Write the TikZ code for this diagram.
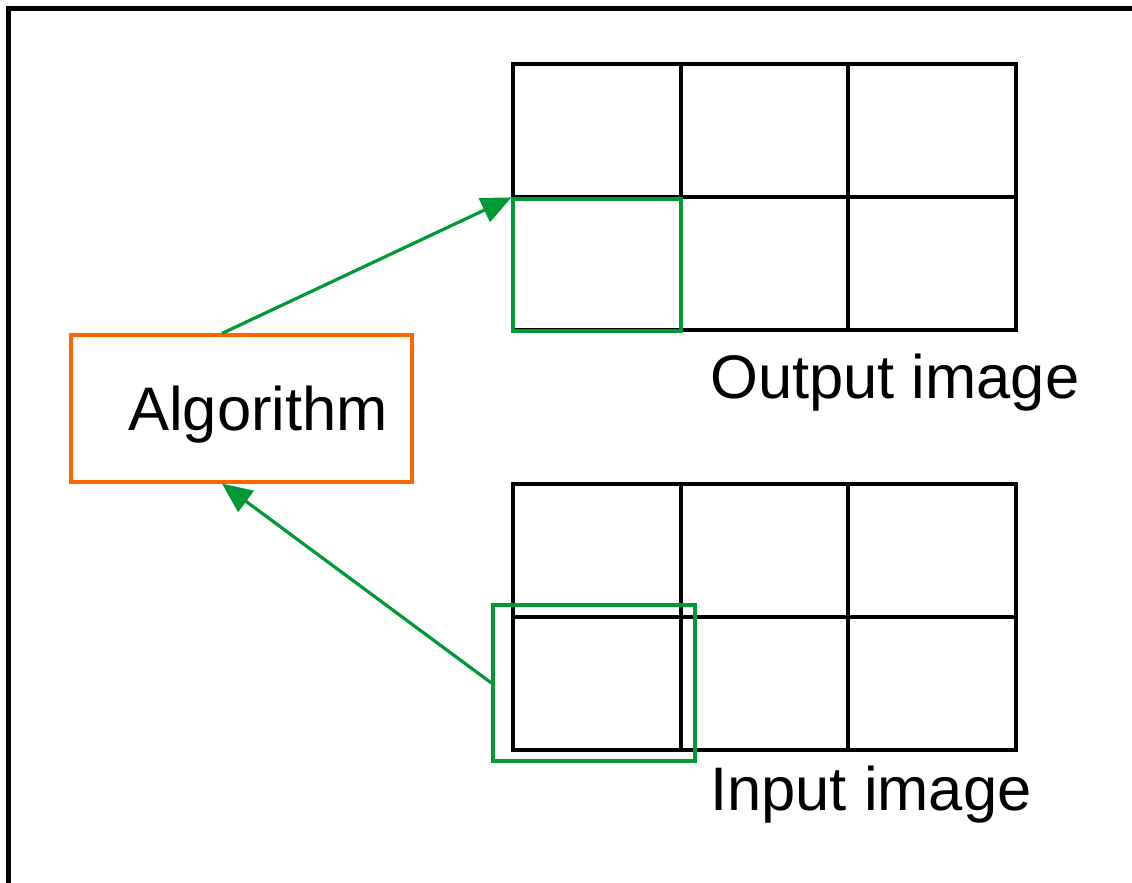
\documentclass[tikz,border=0pt]{standalone}
\usepackage{fontspec}
\setmainfont{Liberation Sans}
\usepackage{tikz}
\usetikzlibrary{arrows.meta}

\definecolor{selgreen}{RGB}{0,153,51}
\definecolor{algoorange}{RGB}{255,102,0}

\tikzset{
  gridline/.style={line width=3.2pt, black, line cap=rect},
  selbox/.style={draw=selgreen, line width=3.2pt, inner sep=0pt},
  algobox/.style={draw=algoorange, line width=3.2pt, inner sep=0pt},
  selarrow/.style={selgreen, line width=3.2pt, -{Triangle[length=30pt,width=26pt]}},
  caption/.style={anchor=base west, inner sep=0pt, font=\fontsize{61.5}{72}\selectfont}
}

\begin{document}
\begin{tikzpicture}[x=1pt,y=1pt,yscale=-1,xscale=1]
    \useasboundingbox (0,0) rectangle (1132,883);

    %Frame (top and left edges only)
    \draw [line width=5pt, line cap=rect] (1140,8.5) -- (8.5,8.5) -- (8.5,890) ;

    %Shape: Grid [output image]
    \foreach \x in {513,681,848,1016}
        \draw [gridline] (\x,64) -- (\x,330) ;
    \foreach \y in {64,197,330}
        \draw [gridline] (513,\y) -- (1016,\y) ;

    %Shape: Grid [input image]
    \foreach \x in {513,681,848,1016}
        \draw [gridline] (\x,484) -- (\x,750) ;
    \foreach \y in {484,617,750}
        \draw [gridline] (513,\y) -- (1016,\y) ;

    %Shape: Rectangle [output pixel]
    \node [selbox, minimum width=168pt, minimum height=132pt] (outsel) at (597,265) {} ;
    %Shape: Rectangle [input window]
    \node [selbox, minimum width=202pt, minimum height=156pt] (insel) at (594,683) {} ;

    %Shape: Rectangle [algorithm]
    \node [algobox, minimum width=341pt, minimum height=147pt] (algo) at (241.5,408.5) {} ;

    % Text Node
    \node [caption] (algotext) at (128,430) {Algorithm} ;
    % Text Node
    \node [caption] (outtext) at (710,398) {Output image} ;
    % Text Node
    \node [caption] (intext) at (710,810) {Input image} ;

    %Straight Lines [arrows]
    \draw [selarrow] ([xshift=-19.5pt]algo.north) -- (outsel.north west) ;
    \draw [selarrow] (insel.west) -- ([xshift=-19.5pt]algo.south) ;

\end{tikzpicture}
\end{document}
